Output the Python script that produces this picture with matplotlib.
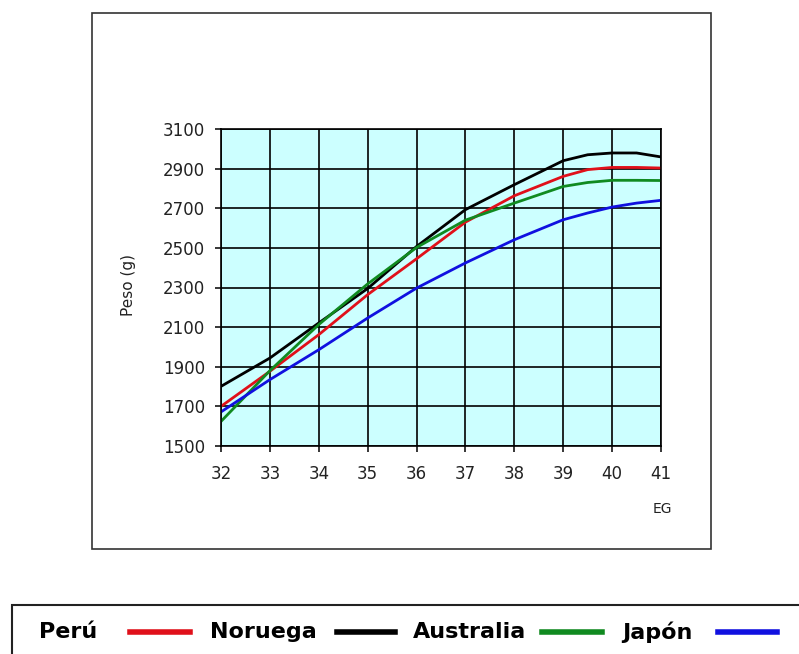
import numpy as np
import matplotlib.pyplot as plt
from matplotlib.patches import Rectangle
from matplotlib.lines import Line2D

# edad gestacional (semanas) y peso (g) por pais
eg = [32, 33, 34, 35, 36, 37, 38, 39, 39.5, 40, 40.5, 41]
peru = [1700, 1877, 2062, 2264, 2445, 2630, 2763, 2861, 2895, 2906, 2906, 2903]
noruega = [1801, 1944, 2121, 2295, 2507, 2693, 2819, 2940, 2970, 2979, 2979, 2959]
australia = [1624, 1880, 2113, 2318, 2502, 2640, 2726, 2810, 2830, 2841, 2841, 2840]
japon = [1672, 1835, 1986, 2146, 2297, 2424, 2541, 2642, 2676, 2706, 2726, 2740]

series = [('Perú', peru, '#e0101a'),
          ('Noruega', noruega, '#000000'),
          ('Australia', australia, '#108a20'),
          ('Japón', japon, '#1010e0')]

xticks = list(range(32, 42))
yticks = list(range(1500, 3101, 200))

W, H = 799, 654
fig = plt.figure(figsize=(W/100, H/100), dpi=100)
plt.rcParams['font.family'] = 'DejaVu Sans'

def fx(px):
    return px / W

def fy(py):
    return 1 - py / H

# outer chart box
fig.patches.append(Rectangle((fx(92), fy(549)), fx(711) - fx(92), fy(13) - fy(549),
                             transform=fig.transFigure, fill=False,
                             edgecolor='#333333', lw=1.2))

ax = fig.add_axes([fx(221), fy(446), fx(661) - fx(221), fy(129) - fy(446)])
ax.set_facecolor('#ccffff')
for name, vals, col in series:
    ax.plot(eg, vals, color=col, lw=2.0, solid_capstyle='butt')

ax.set_xlim(32, 41)
ax.set_ylim(1500, 3100)
ax.set_xticks(xticks)
ax.set_yticks(yticks)
ax.grid(True, color='black', lw=1.2)
ax.set_axisbelow(True)
for s in ax.spines.values():
    s.set_color('black')
    s.set_linewidth(1.2)
ax.tick_params(axis='both', length=4.5, width=1.1, labelsize=12, labelcolor='#222222')
ax.tick_params(axis='x', pad=9)
ax.tick_params(axis='y', pad=7)

fig.text(fx(128), fy(285), 'Peso (g)', rotation=90, ha='center', va='center',
         fontsize=11, color='#222222')
fig.text(fx(662), fy(509), 'EG', ha='center', va='center', fontsize=10, color='#222222')

# legend box (runs off the right and bottom edges)
fig.patches.append(Rectangle((fx(12), fy(660)), fx(810) - fx(12), fy(605) - fy(660),
                             transform=fig.transFigure, fill=False,
                             edgecolor='#222222', lw=1.5))
txt_x = [39, 210, 413, 622]
line_x = [(130, 190), (337, 395), (542, 602), (718, 777)]
for (name, vals, col), tx, (l0, l1) in zip(series, txt_x, line_x):
    fig.text(fx(tx), fy(632), name, ha='left', va='center', fontsize=16, fontweight='bold')
    fig.add_artist(Line2D([fx(l0), fx(l1)], [fy(632), fy(632)], transform=fig.transFigure,
                          color=col, lw=4))

fig.savefig('out.png', dpi=100)
